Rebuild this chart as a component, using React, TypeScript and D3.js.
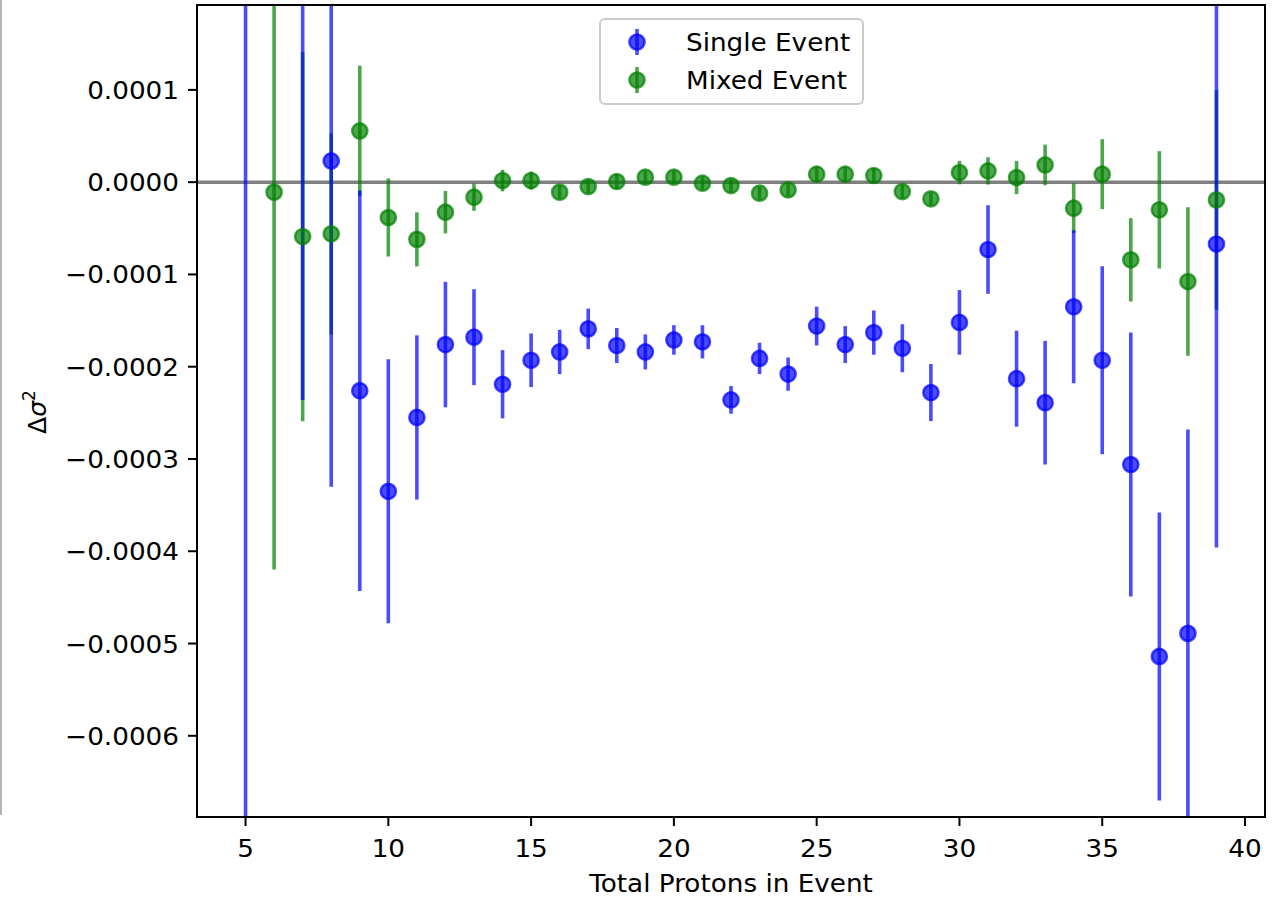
import React from "react";
import * as d3 from "d3";

// total protons in event
const protons = d3.range(5, 40);

// single event: delta sigma^2 and error (null = no point)
const singleVals: (number | null)[] = [
  0.00035, null, 0.00035, 0.000023, -0.000226, -0.000335, -0.000255, -0.000176, -0.000168, -0.000219,
  -0.000193, -0.000184, -0.000159, -0.000177, -0.000184, -0.000171, -0.000173, -0.000236, -0.000191, -0.000208,
  -0.000156, -0.000176, -0.000163, -0.00018, -0.000228, -0.000152, -0.000073, -0.000213, -0.000239, -0.000135,
  -0.000193, -0.000306, -0.000514, -0.000489, -0.000067,
];
const singleErrs: (number | null)[] = [
  0.0012, null, 0.000586, 0.000353, 0.000217, 0.000143, 0.000089, 0.000068, 0.000052, 0.000037,
  0.000029, 0.000024, 0.000022, 0.000019, 0.000019, 0.000016, 0.000018, 0.000015, 0.000017, 0.000018,
  0.000021, 0.00002, 0.000024, 0.000026, 0.000031, 0.000035, 0.000048, 0.000052, 0.000067, 0.000083,
  0.000102, 0.000143, 0.000156, 0.000221, 0.000329,
];

// mixed event
const mixedVals: (number | null)[] = [
  null, -0.0000108, -0.000059, -0.000056, 0.0000555, -0.0000383, -0.000062, -0.0000325, -0.0000163, 0.0000017,
  0.0000017, -0.0000108, -0.0000048, 0.0000007, 0.0000054, 0.0000054, -0.0000011, -0.0000037, -0.0000119, -0.0000083,
  0.0000087, 0.0000087, 0.0000072, -0.0000102, -0.0000181, 0.0000104, 0.0000122, 0.000005, 0.0000187, -0.0000282,
  0.0000087, -0.0000842, -0.00003, -0.0001077, -0.0000192,
];
const mixedErrs: (number | null)[] = [
  null, 0.000409, 0.0002, 0.000109, 0.0000707, 0.0000423, 0.0000293, 0.000023, 0.0000148, 0.0000117,
  0.0000098, 0.0000072, 0.000007, 0.000008, 0.000007, 0.000007, 0.000007, 0.000007, 0.000007, 0.000007,
  0.000008, 0.000008, 0.000008, 0.000007, 0.000007, 0.0000127, 0.0000148, 0.000018, 0.000022, 0.0000271,
  0.0000379, 0.0000452, 0.0000636, 0.0000805, 0.0001192,
];

const xTicks = [5, 10, 15, 20, 25, 30, 35, 40];
const yTicks = [0.0001, 0, -0.0001, -0.0002, -0.0003, -0.0004, -0.0005, -0.0006];
const seriesNames = ["Single Event", "Mixed Event"];
const seriesColors = ["#0000ff", "#008000"];

const W = 1272, H = 898;
const left = 197, right = 1265, top = 5, bottom = 817;
const FONT = "DejaVu Sans";
const SX = 1.05; // the picture is a little wider than tall

// text helper, stretched a bit in x around its anchor
function T(props: { x: number; y: number; anchor?: string; size?: number; children: React.ReactNode }) {
  const { x, y, anchor = "start", size = 25, children } = props;
  return (
    <text transform={`translate(${x},${y}) scale(${SX},1)`} textAnchor={anchor} fontSize={size} fill="#000">
      {children}
    </text>
  );
}

export default function App() {
  const x = d3.scaleLinear().domain([3.3, 40.7]).range([left, right]);
  const y = d3.scaleLinear().domain([-0.000688, 0.000192]).range([bottom, top]);
  const fmt = (v: number) => {
    const s = d3.format(".4f")(Math.abs(v));
    return v < 0 ? "\u2212" + s : s;
  };

  const series = [
    { vals: singleVals, errs: singleErrs, color: seriesColors[0] },
    { vals: mixedVals, errs: mixedErrs, color: seriesColors[1] },
  ];

  const bars = (s: typeof series[0], key: string) =>
    protons.map((p, i) => {
      const v = s.vals[i], e = s.errs[i];
      if (v == null || e == null) return null;
      return (
        <line key={key + i} x1={x(p)} x2={x(p)} y1={y(v + e)} y2={y(v - e)}
          stroke={s.color} strokeOpacity={0.7} strokeWidth={3.6} />
      );
    });
  const markers = (s: typeof series[0], key: string) =>
    protons.map((p, i) => {
      const v = s.vals[i];
      if (v == null) return null;
      return (
        <circle key={key + i} cx={x(p)} cy={y(v)} r={7.6}
          fill={s.color} fillOpacity={0.7} stroke={s.color} strokeOpacity={0.7} strokeWidth={2.5} />
      );
    });

  return (
    <svg width={W} height={H} style={{ position: "absolute", left: 0, top: 0, background: "#fff" }}
      fontFamily={FONT}>
      <defs>
        <clipPath id="plot">
          <rect x={left} y={top} width={right - left} height={bottom - top} />
        </clipPath>
      </defs>
      <line x1={1} x2={1} y1={0} y2={815} stroke="#b4b4b4" strokeWidth={2} />

      <g clipPath="url(#plot)">
        <line x1={left} x2={right} y1={y(0)} y2={y(0)} stroke="#808080" strokeWidth={3.5} />
        {bars(series[1], "gb")}
        {bars(series[0], "bb")}
        {markers(series[1], "gm")}
        {markers(series[0], "bm")}
      </g>

      <rect x={left} y={top} width={right - left} height={bottom - top} fill="none" stroke="#000" strokeWidth={2} />

      {xTicks.map((t) => (
        <g key={"xt" + t}>
          <line x1={x(t)} x2={x(t)} y1={bottom} y2={bottom + 9} stroke="#000" strokeWidth={2} />
          <T x={x(t)} y={857} anchor="middle">{t}</T>
        </g>
      ))}
      {yTicks.map((t) => (
        <g key={"yt" + t}>
          <line x1={left - 9} x2={left} y1={y(t)} y2={y(t)} stroke="#000" strokeWidth={2} />
          <T x={179} y={y(t) + 9} anchor="end">{fmt(t)}</T>
        </g>
      ))}

      <T x={(left + right) / 2} y={892} anchor="middle">Total Protons in Event</T>
      <text transform={`translate(46, ${(top + bottom) / 2 + 1}) rotate(-90)`} textAnchor="middle" fontSize={25} fill="#000">
        <tspan>Δ</tspan>
        <tspan fontStyle="italic">σ</tspan>
        <tspan fontSize={17} dy={-11}>2</tspan>
      </text>

      <g>
        <rect x={600} y={19} width={263} height={85} rx={5} fill="#fff" fillOpacity={0.8}
          stroke="#cccccc" strokeWidth={2} />
        {seriesNames.map((name, i) => {
          const cy = 42 + i * 38;
          const c = seriesColors[i];
          return (
            <g key={name}>
              <line x1={637} x2={637} y1={cy - 13} y2={cy + 13} stroke={c} strokeOpacity={0.7} strokeWidth={3.6} />
              <circle cx={637} cy={cy} r={7.6} fill={c} fillOpacity={0.7} stroke={c} strokeOpacity={0.7} strokeWidth={2.5} />
              <T x={686} y={cy + 8.5}>{name}</T>
            </g>
          );
        })}
      </g>
    </svg>
  );
}
